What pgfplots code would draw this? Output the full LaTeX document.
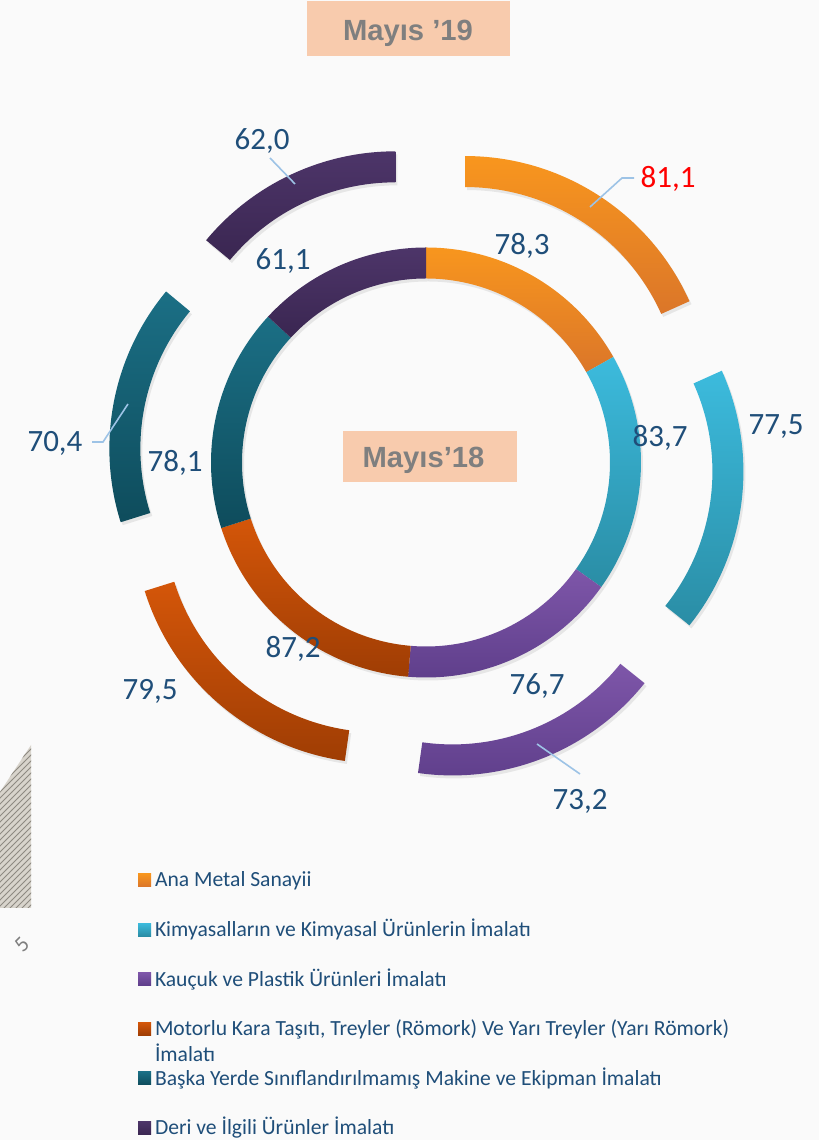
\documentclass[border=0pt]{standalone}
\usepackage{pgfplots}
\pgfplotsset{compat=1.18}
\usepackage{fontspec}
\setmainfont{Carlito}
\newfontfamily\titlefont{Liberation Sans}
\usetikzlibrary{patterns}

\definecolor{bg}{HTML}{FAFAFA}
\definecolor{peach}{HTML}{F8CBAD}
\definecolor{titlegray}{HTML}{7F7F7F}
\definecolor{lbl}{HTML}{1F4E79}
\definecolor{leader}{HTML}{9DC3E6}
\definecolor{hatchbg}{HTML}{D8D4CC}
\definecolor{hatchln}{HTML}{8E8A82}
% top / bottom colours of each slice (vertical gradient)
\definecolor{top1}{HTML}{F8961E}\definecolor{bot1}{HTML}{DB7629}
\definecolor{top2}{HTML}{3CBBDD}\definecolor{bot2}{HTML}{2A8DA5}
\definecolor{top3}{HTML}{7E56A9}\definecolor{bot3}{HTML}{5E3E8A}
\definecolor{top4}{HTML}{D45609}\definecolor{bot4}{HTML}{9F3D04}
\definecolor{top5}{HTML}{1B6F85}\definecolor{bot5}{HTML}{0E4C5C}
\definecolor{top6}{HTML}{4D3569}\definecolor{bot6}{HTML}{3A2651}

% ring slice: style, start angle, end angle, inner radius, outer radius, explosion (pt)
\newcommand\seg[6]{%
  \pgfmathsetmacro\sa{#2}\pgfmathsetmacro\sb{#3}\pgfmathsetmacro\sm{(\sa+\sb)/2}%
  \edef\temp{\noexpand\path[#1, shift={(\sm:#6pt)}] ([shift={(O)}]\sa:#5pt)
    arc[start angle=\sa,end angle=\sb,radius=#5pt]
    -- ([shift={(O)}]\sb:#4pt)
    arc[start angle=\sb,end angle=\sa,radius=#4pt] -- cycle;}%
  \temp}

% slice angles from the values (clockwise from the top)
\def\valsO{81.1,77.5,73.2,79.5,70.4,62.0}% Mayıs '19
\def\valsI{78.3,83.7,76.7,87.2,78.1,61.1}% Mayıs '18
\pgfmathsetmacro\sumO{81.1+77.5+73.2+79.5+70.4+62.0}
\pgfmathsetmacro\sumI{78.3+83.7+76.7+87.2+78.1+61.1}
\xdef\acc{90}
\foreach \v [count=\i] in \valsO {%
  \pgfmathsetmacro\tmpb{\acc-360*(\v/\sumO)}%
  \expandafter\xdef\csname oS\i\endcsname{\acc}%
  \expandafter\xdef\csname oE\i\endcsname{\tmpb}%
  \xdef\acc{\tmpb}}
\xdef\acc{90}
\foreach \v [count=\i] in \valsI {%
  \pgfmathsetmacro\tmpb{\acc-360*(\v/\sumI)}%
  \expandafter\xdef\csname iS\i\endcsname{\acc}%
  \expandafter\xdef\csname iE\i\endcsname{\tmpb}%
  \xdef\acc{\tmpb}}

\begin{document}
\begin{tikzpicture}
\begin{axis}[
    hide axis, scale only axis, clip=false,
    x=0.5pt, y=0.5pt,
    xmin=0, xmax=819, ymin=0, ymax=1140,
    legend image code/.code={\path[#1, draw=none] (0pt,-3.25pt) rectangle (6.5pt,3.25pt);},
    legend cell align=left,
    legend style={at={(axis cs:138,269.45)}, anchor=north west,
        draw=none, fill=none, inner sep=0pt, outer sep=0pt,
        /tikz/row sep=15.35pt, /tikz/column sep=2pt,
        font=\fontsize{10.8}{12}\selectfont,
        nodes={inner sep=0pt, text height=8.2pt, text depth=1.25pt, text=lbl}},
]
\addlegendimage{top color=top1, bottom color=bot1}
\addlegendimage{top color=top2, bottom color=bot2}
\addlegendimage{top color=top3, bottom color=bot3}
\addlegendimage{top color=top4, bottom color=bot4}
\addlegendimage{top color=top5, bottom color=bot5}
\addlegendimage{top color=top6, bottom color=bot6}
\legend{Ana Metal Sanayii,
  Kimyasalların ve Kimyasal Ürünlerin İmalatı,
  Kauçuk ve Plastik Ürünleri İmalatı,
  {\rlap{\smash{\raisebox{-13pt}{İmalatı}}}Motorlu Kara Taşıtı, Treyler (Römork) Ve Yarı Treyler (Yarı Römork)},
  Başka Yerde Sınıflandırılmamış Makine ve Ekipman İmalatı,
  Deri ve İlgili Ürünler İmalatı}

% background and decorations
\fill[bg] (axis cs:0,0) rectangle (axis cs:819,1140);
\fill[hatchbg] (axis cs:0,348) -- (axis cs:31,395) -- (axis cs:31,232) -- (axis cs:0,232) -- cycle;
\fill[pattern=north east lines, pattern color=hatchln] (axis cs:0,348) -- (axis cs:31,395) -- (axis cs:31,232) -- (axis cs:0,232) -- cycle;
\node[rotate=45, text=titlegray, font=\fontsize{11}{12}\selectfont] at (axis cs:22,195) {5};

\coordinate (O) at (axis cs:426,677.5);
% soft shadows first, then the slices; the outer ring is exploded
\pgfplotsinvokeforeach{1,...,6}{%
  \seg{fill=black, opacity=0.08, shift={(1pt,-1.5pt)}}{\csname oS#1\endcsname}{\csname oE#1\endcsname}{107.5}{123}{36}
  \seg{fill=black, opacity=0.08, shift={(1pt,-1.5pt)}}{\csname iS#1\endcsname}{\csname iE#1\endcsname}{92}{107.5}{0}
}
\pgfplotsinvokeforeach{1,...,6}{%
  \seg{top color=top#1, bottom color=bot#1}{\csname oS#1\endcsname}{\csname oE#1\endcsname}{107.5}{123}{36}
  \seg{top color=top#1, bottom color=bot#1}{\csname iS#1\endcsname}{\csname iE#1\endcsname}{92}{107.5}{0}
}

% title boxes
\fill[peach] (axis cs:307,1084) rectangle (axis cs:510,1139);
\node[anchor=base, inner sep=0pt, text=titlegray, font=\titlefont\bfseries\fontsize{14.6}{16}\selectfont] at (axis cs:408,1099) {Mayıs ’19};
\fill[peach] (axis cs:343,658) rectangle (axis cs:517,709);
\node[anchor=base, inner sep=0pt, text=titlegray, font=\titlefont\bfseries\fontsize{14.6}{16}\selectfont] at (axis cs:423.5,672) {Mayıs’18};

% leader lines
\addplot[leader, line width=0.8pt, forget plot] coordinates {(270,982) (295,956)};
\addplot[leader, line width=0.8pt, forget plot] coordinates {(590,933) (622,962) (634,962)};
\addplot[leader, line width=0.8pt, forget plot] coordinates {(92,698) (103,698) (128,736)};
\addplot[leader, line width=0.8pt, forget plot] coordinates {(537,396) (580,366)};

% data labels
\addplot[only marks, mark=none, forget plot, nodes near coords,
  point meta=explicit symbolic,
  every node near coord/.append style={anchor=center, inner sep=0pt,
    text height=9.8pt, text depth=0pt, text=lbl,
    font=\fontsize{15.5}{18}\selectfont}]
  table[x=x, y=y, meta=lab] {
x y lab
262 1000 62,0
522 895 78,3
283 880 61,1
660 703 83,7
776 715 77,5
55 698 70,4
175 678 78,1
293 492 87,2
537 455 76,7
150 450 79,5
580 340 73,2
};
\addplot[only marks, mark=none, forget plot, nodes near coords,
  point meta=explicit symbolic,
  every node near coord/.append style={anchor=center, inner sep=0pt,
    text height=9.8pt, text depth=0pt, text=red,
    font=\fontsize{15.5}{18}\selectfont}]
  table[x=x, y=y, meta=lab] {
x y lab
668 962 81,1
};
\end{axis}
\end{tikzpicture}
\end{document}
